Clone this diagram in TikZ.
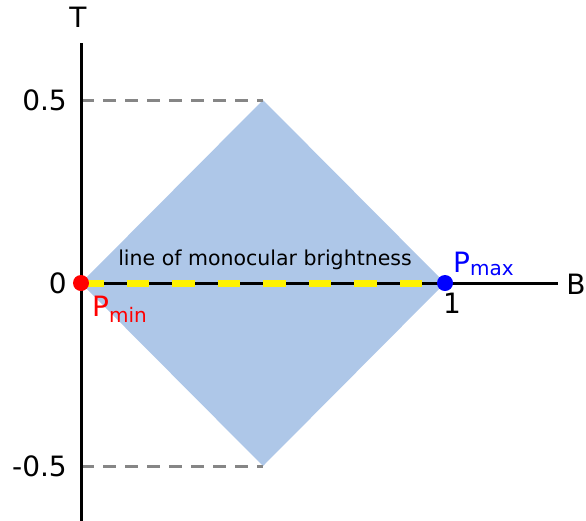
\documentclass[tikz,border=0pt]{standalone}
\usepackage{fontspec}
\setmainfont{DejaVu Sans}
\begin{document}
\begin{tikzpicture}[x=1pt,y=-1pt,
  axis/.style={line width=3pt,black},
  guide/.style={line width=3pt,gray!95!white,dash pattern=on 13pt off 9pt},
  lbl/.style={font=\fontsize{28}{32}\selectfont,inner sep=0pt},
  pt/.style={circle,inner sep=0pt,minimum size=16pt}]
\useasboundingbox (0,0) rectangle (586,520);
\coordinate (O) at (81,283);
\coordinate (R) at (445,283);
\coordinate (Top) at (263,100);
\coordinate (Bot) at (263,466);
\coordinate (Tl) at (81,100);
\coordinate (Bl) at (81,466);
\coordinate (Tend) at (81,43);
\coordinate (Tbot) at (81,521);
\coordinate (Bend) at (558,283);
\fill[fill={rgb,255:red,174;green,199;blue,232}] (O) -- (Top) -- (R) -- (Bot) -- cycle;
\draw[guide] (Tl) -- (Top);
\draw[guide] (Bl) -- (Bot);
\draw[axis] (Tbot) -- (Tend);
\draw[axis] (O) -- (Bend);
\draw[line width=7pt,yellow,dash pattern=on 22.75pt off 22.75pt] (O) -- (R);
\node[pt,fill=red] (pmin) at (O) {};
\node[pt,fill=blue] (pmax) at (R) {};
\node[lbl] (tl) at (78,17) {T};
\node[lbl] (bl) at (576,284) {B};
\node[lbl,anchor=east] (h) at (67,100) {0.5};
\node[lbl,anchor=east] (z) at (67,283) {0};
\node[lbl,anchor=east] (mh) at (67,466) {-0.5};
\node[lbl] (one) at (452,303) {1};
\node[inner sep=0pt,font=\fontsize{20.5}{24}\selectfont] (line) at (265,260) {line of monocular brightness};
\node[lbl,anchor=base west,text=red] (pminl) at (92,316) {P\textsubscript{\fontsize{20}{24}\selectfont min}};
\node[lbl,anchor=base west,text=blue] (pmaxl) at (453,272) {P\textsubscript{\fontsize{20}{24}\selectfont max}};
\end{tikzpicture}
\end{document}
